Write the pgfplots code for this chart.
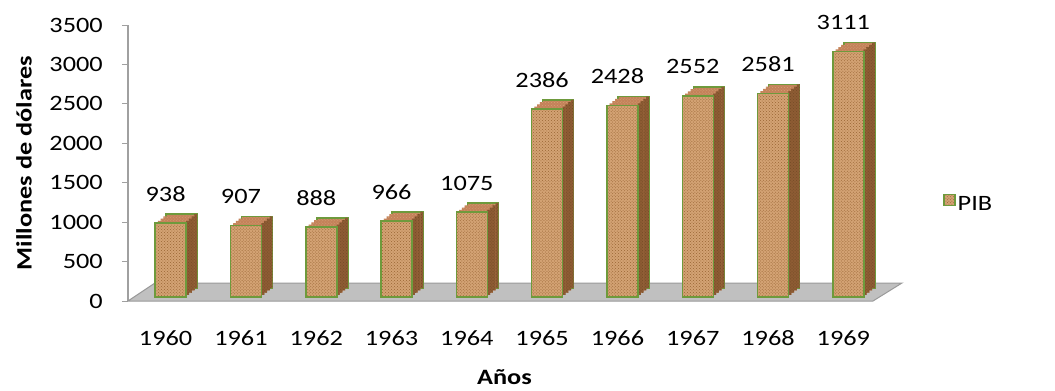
\documentclass[border=0pt]{standalone}
\usepackage{fontspec}
\setmainfont{Carlito}[FakeStretch=1.2]
\usepackage{pgfplots}
\usepackage{pgfplotstable}
\pgfplotsset{compat=1.18}
\usetikzlibrary{patterns}
\definecolor{frontc}{HTML}{D3A274}
\definecolor{sidec}{HTML}{8E5C34}
\definecolor{topc}{HTML}{C4825A}
\definecolor{edgeg}{HTML}{6E9A3C}
\definecolor{axgray}{HTML}{A0A0A0}
\definecolor{floorc}{HTML}{C0C0C0}
\definecolor{flooredge}{HTML}{9A9A9A}
\pgfplotstableread{
x y
0 938
1 907
2 888
3 966
4 1075
5 2386
6 2428
7 2552
8 2581
9 3111
}\datatable
\pgfplotsset{
  topbar/.style={ybar, bar width=31bp, fill=topc, draw=none, forget plot,
    postaction={pattern=crosshatch dots, pattern color=frontc}},
  sidebar/.style={ybar, bar width=3bp, fill=sidec, draw=none, forget plot,
    postaction={pattern=crosshatch dots, pattern color=brown!60!black}},
}
\begin{document}
\begin{tikzpicture}[font=\fontsize{22}{26}\selectfont]
\path[use as bounding box] (-128bp,-90bp) rectangle (927bp,301bp);
\begin{axis}[
  at={(0,0)}, anchor=south west,
  width=753bp, height=276bp, scale only axis,
  clip=false,
  xmin=-0.5, xmax=9.5, ymin=0, ymax=3500,
  xtick={0,...,9}, xticklabels={1960,1961,1962,1963,1964,1965,1966,1967,1968,1969},
  ytick={0,500,...,3500},
  /pgf/number format/1000 sep={},
  /pgf/number format/assume math mode=true,
  axis lines*=left,
  x axis line style={draw=none},
  y axis line style={draw=axgray, line width=1.2bp},
  xtick style={draw=none},
  ytick style={draw=axgray, line width=1bp},
  major tick length=6bp, tick align=outside,
  xticklabel style={anchor=base, inner sep=0pt, yshift=-44bp+6bp},
  yticklabel style={anchor=east, inner sep=0pt, xshift=-19bp},
  every axis x label/.style={at={(rel axis cs:0.5,0)}, anchor=base, yshift=-83bp},
  every axis y label/.style={at={([xshift=-104bp]rel axis cs:0,0.5)}, rotate=90, anchor=center},
  xlabel={\bfseries Años},
  ylabel={\bfseries Millones de dólares},
  legend style={at={([xshift=815bp,yshift=97bp]rel axis cs:0,0)}, anchor=west, draw=none, fill=none, inner sep=0pt},
  legend image code/.code={\draw[#1] (0bp,-5.5bp) rectangle (11bp,5.5bp);},
]
\fill[floorc, draw=flooredge, line width=1bp] (rel axis cs:0,0) -- ([xshift=745bp]rel axis cs:0,0) -- ([xshift=774bp,yshift=18bp]rel axis cs:0,0) -- ([xshift=27bp,yshift=18bp]rel axis cs:0,0) -- cycle;
% back copy with green outline
\addplot[topbar, draw=edgeg, line width=1.5bp, bar shift=16bp, yshift=13bp] table[x=x,y=y]{\datatable};
\addplot[topbar, bar shift=13.25bp, yshift=10.75bp] table[x=x,y=y]{\datatable};
\addplot[topbar, bar shift=10.5bp, yshift=8.5bp] table[x=x,y=y]{\datatable};
\addplot[topbar, bar shift=7.75bp, yshift=6.25bp] table[x=x,y=y]{\datatable};
% side face strips
\addplot[sidebar, bar shift=21.875bp, yshift=6.25bp] table[x=x,y=y]{\datatable};
\addplot[sidebar, bar shift=24.625bp, yshift=8.5bp] table[x=x,y=y]{\datatable};
\addplot[sidebar, bar shift=27.375bp, yshift=10.75bp] table[x=x,y=y]{\datatable};
\addplot[sidebar, bar shift=30.125bp, yshift=13bp, bar width=2.75bp] table[x=x,y=y]{\datatable};
% front face
\addplot[ybar, bar width=31bp, bar shift=5bp, yshift=4bp, fill=frontc, draw=edgeg, line width=1.5bp,
  postaction={pattern=crosshatch dots, pattern color=brown!80!black},
  nodes near coords, nodes near coords style={black, anchor=center, yshift=29bp, font=\fontsize{22}{26}\selectfont}
  ] table[x=x,y=y]{\datatable};
\addlegendentry{PIB}
\end{axis}
\end{tikzpicture}
\end{document}
